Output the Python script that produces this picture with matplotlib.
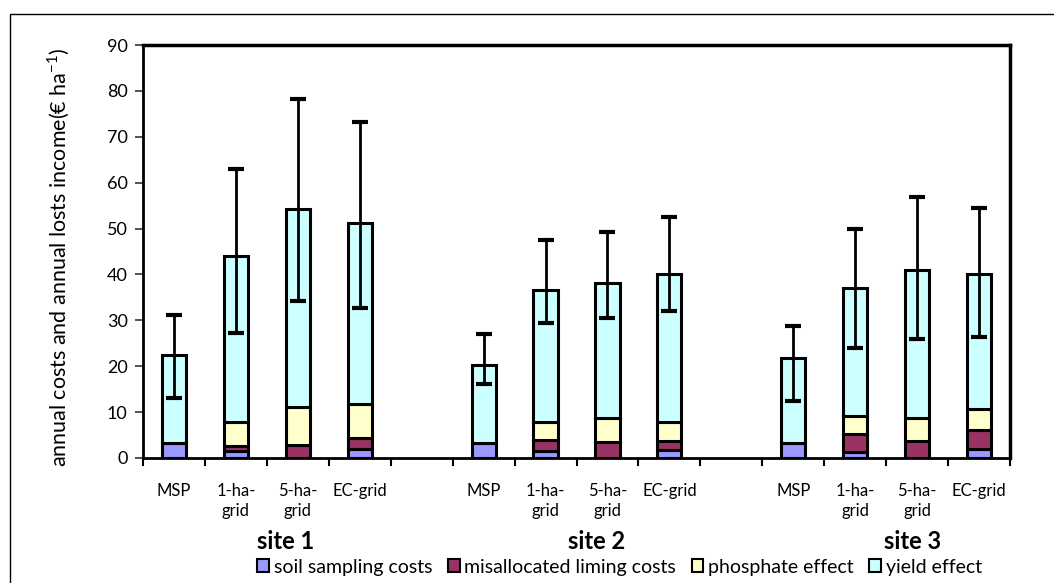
import numpy as np
import matplotlib.pyplot as plt
from matplotlib.patches import Rectangle

plt.rcParams['font.family'] = ['Lato', 'DejaVu Sans']

# categories (one blank slot between sites)
methods = ["MSP", "1-ha-\ngrid", "5-ha-\ngrid", "EC-grid"]
sites = ["site 1", "site 2", "site 3"]
site_label_x = [1.8, 6.83, 11.92]  # label centres, in category slots

# stacked components per site, order: MSP, 1-ha, 5-ha, EC
soil = [[3.3, 1.5, 0.0, 2.0],
        [3.3, 1.6, 0.0, 1.7],
        [3.3, 1.4, 0.0, 2.0]]
liming = [[0.0, 1.1, 2.8, 2.4],
          [0.0, 2.3, 3.5, 1.9],
          [0.0, 3.8, 3.8, 4.1]]
phosphate = [[0.0, 5.3, 8.3, 7.3],
             [0.0, 3.9, 5.3, 4.2],
             [0.0, 4.0, 4.9, 4.6]]
total = [[22.4, 44.0, 54.2, 51.2],
         [20.3, 36.6, 38.2, 40.2],
         [21.8, 37.0, 41.0, 40.2]]
err_low = [[13.0, 27.2, 34.2, 32.7],
           [16.1, 29.4, 30.6, 32.0],
           [12.4, 24.0, 25.9, 26.4]]
err_high = [[31.1, 63.0, 78.2, 73.2],
            [27.0, 47.5, 49.2, 52.5],
            [28.8, 50.0, 56.8, 54.5]]

series_names = ["soil sampling costs", "misallocated liming costs",
                "phosphate effect", "yield effect"]
colors = ["#9999ff", "#993366", "#ffffcc", "#ccffff"]

fig = plt.figure(figsize=(10.54, 5.83), dpi=100)
ax = fig.add_axes([143 / 1054, 1 - 458 / 583, (1010 - 143) / 1054, (458 - 45) / 583])

# outer chart frame
fig.add_artist(Rectangle((10 / 1054, -0.1), 1.2, 1 - 14 / 583 + 0.1,
                         transform=fig.transFigure, fill=False,
                         edgecolor="black", lw=1.0))

width = 0.39
n_slots = len(sites) * (len(methods) + 1) - 1
xticks, xlabels = [], []
for s in range(len(sites)):
    for m in range(len(methods)):
        x = s * (len(methods) + 1) + m
        xticks.append(x)
        xlabels.append(methods[m])
        yield_part = total[s][m] - soil[s][m] - liming[s][m] - phosphate[s][m]
        parts = [soil[s][m], liming[s][m], phosphate[s][m], yield_part]
        bottom = 0
        for val, c in zip(parts, colors):
            if val > 0:
                ax.bar(x, val, width, bottom=bottom, color=c,
                       edgecolor="black", linewidth=2.2, zorder=2)
            bottom += val
        ax.errorbar(x, total[s][m],
                    yerr=[[total[s][m] - err_low[s][m]], [err_high[s][m] - total[s][m]]],
                    fmt="none", ecolor="black", elinewidth=2, capsize=6,
                    capthick=3, zorder=3)

ax.set_xlim(-0.5, n_slots - 0.5)
ax.set_ylim(0, 90)
ax.set_yticks(np.arange(0, 91, 10))
ax.set_xticks(xticks)
ax.set_xticklabels(xlabels, fontsize=12, linespacing=1.3, va="top")
ax.set_xticks(np.arange(-0.5, n_slots, 1), minor=True)
ax.tick_params(axis="x", which="major", length=0, pad=18)
ax.tick_params(axis="x", which="minor", length=6, width=1.5, direction="out")
ax.tick_params(axis="y", length=6, width=1.2, direction="out", labelsize=13,
               colors="#333333", labelcolor="black", pad=5)
for sp in ax.spines.values():
    sp.set_linewidth(2)
ax.spines["top"].set_linewidth(2.5)
ax.spines["right"].set_linewidth(2.5)

ax.set_ylabel("annual costs and annual losts income(€ ha$^{\\mathregular{-1}}$)",
              fontsize=15.5)
ax.yaxis.set_label_coords(-0.082, 0.485)

# site labels under each group
for xc, name in zip(site_label_x, sites):
    ax.text(xc, -18.1, name, ha="center", va="center", fontsize=17,
            fontweight="bold")

handles = [Rectangle((0, 0), 1, 1, facecolor=c, edgecolor="black", lw=1.5)
           for c in colors]
fig.legend(handles, series_names, loc="center", bbox_to_anchor=(0.588, 1 - 567 / 583),
           ncol=4, frameon=False, fontsize=14, handlelength=0.6, handleheight=0.6,
           handletextpad=0.25, columnspacing=0.8, borderaxespad=0)

fig.savefig("out.png", dpi=100)
